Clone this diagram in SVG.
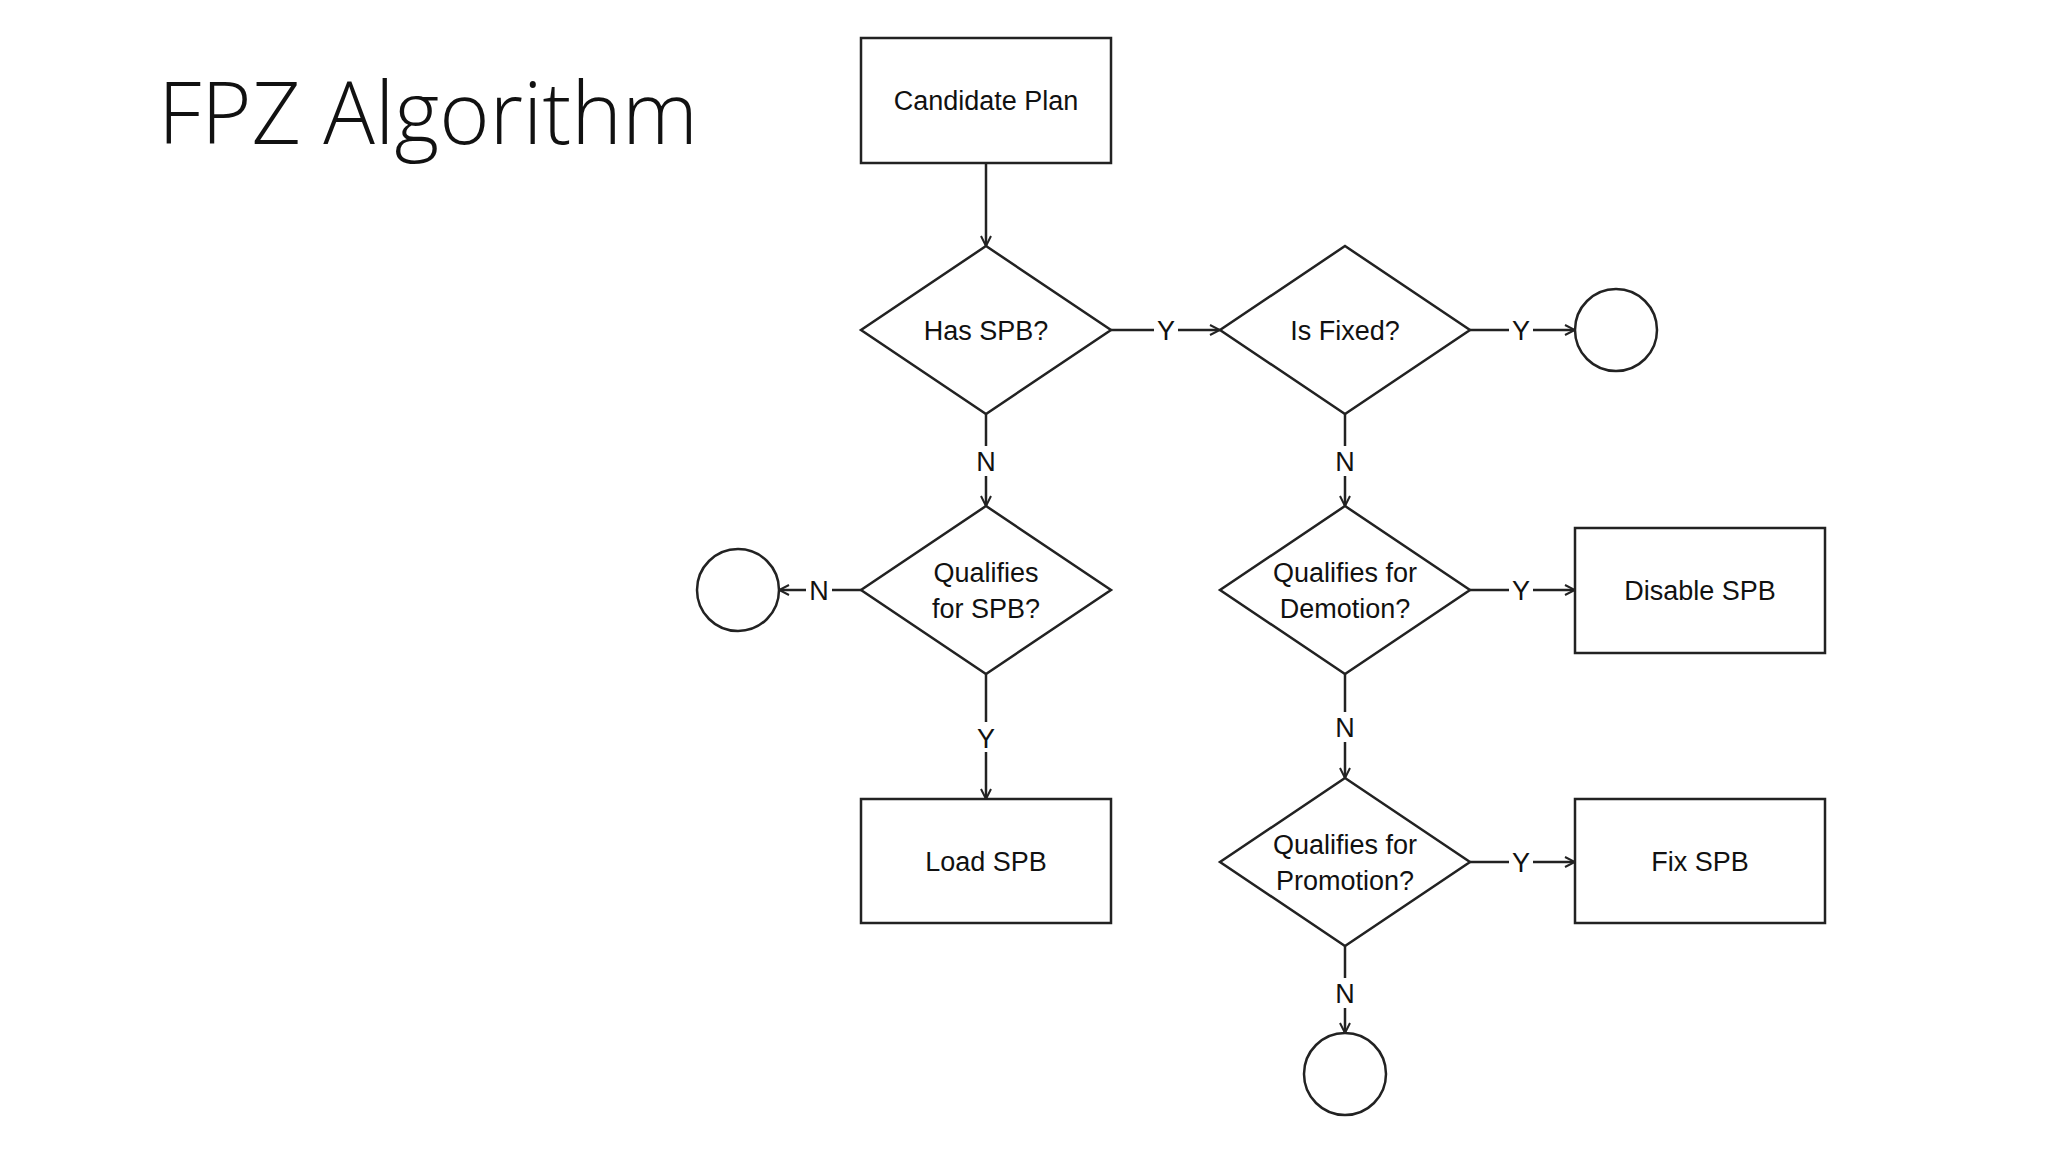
<svg xmlns="http://www.w3.org/2000/svg" width="2048" height="1152" viewBox="0 0 2048 1152">
<style>
.s{fill:#fff;stroke:#222;stroke-width:2.5}
.t{font-family:"Liberation Sans",Arial,sans-serif;font-size:27px;fill:#111;text-anchor:middle}
.c{stroke:#222;stroke-width:2.5;fill:none}
</style>
<defs><marker id="a" viewBox="0 0 12 12" refX="11" refY="6" markerWidth="12" markerHeight="12" markerUnits="userSpaceOnUse" orient="auto"><path d="M1 1L11 6L1 11" fill="none" stroke="#222" stroke-width="2"/></marker></defs>
<rect width="2048" height="1152" fill="#fff"/>
<text x="158" y="144" font-family="Open Sans,Lato,sans-serif" font-weight="300" font-size="86" fill="#111">FPZ Algorithm</text>
<g id="candidate"><rect class="s" x="861" y="38" width="250" height="125"/><text class="t" x="986" y="110">Candidate Plan</text></g>
<g id="hasspb"><polygon class="s" points="986,246 1111,330 986,414 861,330"/><text class="t" x="986" y="340">Has SPB?</text></g>
<g id="isfixed"><polygon class="s" points="1345,246 1470,330 1345,414 1220,330"/><text class="t" x="1345" y="340">Is Fixed?</text></g>
<g id="end1"><circle class="s" cx="1616" cy="330" r="41"/></g>
<g id="qspb"><polygon class="s" points="986,506 1111,590 986,674 861,590"/><text class="t" x="986" y="582">Qualifies</text><text class="t" x="986" y="618">for SPB?</text></g>
<g id="end2"><circle class="s" cx="738" cy="590" r="41"/></g>
<g id="qdem"><polygon class="s" points="1345,506 1470,590 1345,674 1220,590"/><text class="t" x="1345" y="582">Qualifies for</text><text class="t" x="1345" y="618">Demotion?</text></g>
<g id="disable"><rect class="s" x="1575" y="528" width="250" height="125"/><text class="t" x="1700" y="600">Disable SPB</text></g>
<g id="load"><rect class="s" x="861" y="799" width="250" height="124"/><text class="t" x="986" y="871">Load SPB</text></g>
<g id="qpro"><polygon class="s" points="1345,778 1470,862 1345,946 1220,862"/><text class="t" x="1345" y="854">Qualifies for</text><text class="t" x="1345" y="890">Promotion?</text></g>
<g id="fix"><rect class="s" x="1575" y="799" width="250" height="124"/><text class="t" x="1700" y="871">Fix SPB</text></g>
<g id="end3"><circle class="s" cx="1345" cy="1074" r="41"/></g>
<g id="connectors">
<line class="c" x1="986" y1="163" x2="986" y2="246" marker-end="url(#a)"/>
<line class="c" x1="1111" y1="330" x2="1154" y2="330"/><line class="c" x1="1178" y1="330" x2="1220" y2="330" marker-end="url(#a)"/><text class="t" x="1166" y="340">Y</text>
<line class="c" x1="1470" y1="330" x2="1509" y2="330"/><line class="c" x1="1533" y1="330" x2="1575" y2="330" marker-end="url(#a)"/><text class="t" x="1521" y="340">Y</text>
<line class="c" x1="986" y1="414" x2="986" y2="446"/><line class="c" x1="986" y1="476" x2="986" y2="506" marker-end="url(#a)"/><text class="t" x="986" y="471">N</text>
<line class="c" x1="1345" y1="414" x2="1345" y2="446"/><line class="c" x1="1345" y1="476" x2="1345" y2="506" marker-end="url(#a)"/><text class="t" x="1345" y="471">N</text>
<line class="c" x1="861" y1="590" x2="832" y2="590"/><line class="c" x1="806" y1="590" x2="779" y2="590" marker-end="url(#a)"/><text class="t" x="819" y="600">N</text>
<line class="c" x1="1470" y1="590" x2="1509" y2="590"/><line class="c" x1="1533" y1="590" x2="1575" y2="590" marker-end="url(#a)"/><text class="t" x="1521" y="600">Y</text>
<line class="c" x1="986" y1="674" x2="986" y2="722"/><line class="c" x1="986" y1="752" x2="986" y2="799" marker-end="url(#a)"/><text class="t" x="986" y="748">Y</text>
<line class="c" x1="1345" y1="674" x2="1345" y2="712"/><line class="c" x1="1345" y1="742" x2="1345" y2="778" marker-end="url(#a)"/><text class="t" x="1345" y="737">N</text>
<line class="c" x1="1470" y1="862" x2="1509" y2="862"/><line class="c" x1="1533" y1="862" x2="1575" y2="862" marker-end="url(#a)"/><text class="t" x="1521" y="872">Y</text>
<line class="c" x1="1345" y1="946" x2="1345" y2="978"/><line class="c" x1="1345" y1="1008" x2="1345" y2="1033" marker-end="url(#a)"/><text class="t" x="1345" y="1003">N</text>
</g>
</svg>
